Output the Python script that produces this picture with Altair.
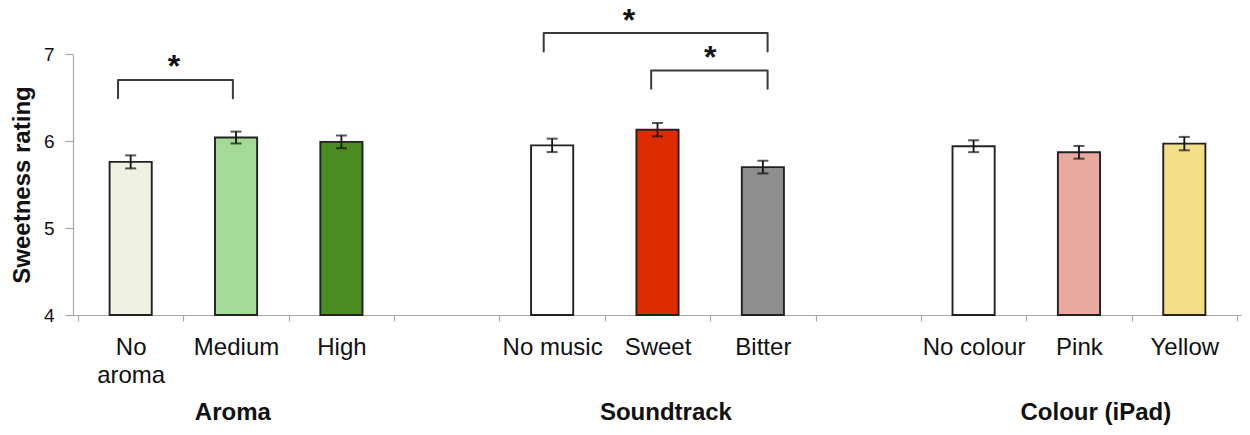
import altair as alt
import pandas as pd
import json

# ---- data ----
categories = ["No aroma", "Medium", "High", "",
              "No music", "Sweet", "Bitter", "",
              "No colour", "Pink", "Yellow"]
bar_categories = ["No aroma", "Medium", "High",
                  "No music", "Sweet", "Bitter",
                  "No colour", "Pink", "Yellow"]
means = [5.76, 6.04, 5.99, 5.95, 6.13, 5.70, 5.94, 5.87, 5.97]
sems = [0.075, 0.068, 0.073, 0.077, 0.077, 0.073, 0.068, 0.073, 0.077]
bar_colors = ["#EFF1E2", "#A3DA95", "#4A8C22",
              "#FFFFFF", "#DD2C00", "#8E8E8E",
              "#FFFFFF", "#EAA99E", "#F3DF88"]

group_titles = ["Aroma", "Soundtrack", "Colour (iPad)"]
group_centers = [1.47, 5.58, 9.66]          # in slot units (0..11)

# significance brackets (slot units on x, rating units on y)
br_left = [0.38, 4.42, 5.44]
br_right = [1.47, 6.545, 6.545]
br_top = [6.70, 7.24, 6.81]
br_bottom = [6.49, 7.03, 6.60]
star_x = [0.91, 5.23, 6.0]
star_y = [6.90, 7.43, 7.00]

FONT = "Liberation Sans"
W, H = 1169, 261
N = len(categories)

slots = [i for i, c in enumerate(categories) if c]
bars = pd.DataFrame({
    "cat": bar_categories, "slot": slots, "mean": means, "sem": sems,
})

rows = []
for i, (l, r, t, b) in enumerate(zip(br_left, br_right, br_top, br_bottom)):
    for k, (xx, yy) in enumerate([(l, b), (l, t), (r, t), (r, b)]):
        rows.append({"id": i, "k": k, "x": xx, "y": yy})
brackets = pd.DataFrame(rows)
stars = pd.DataFrame({"x": star_x, "y": star_y, "t": ["*"] * len(star_x)})
groups = pd.DataFrame({"x": group_centers, "t": group_titles})

names_js = json.dumps(categories)
label_expr = ("datum.value % 1 == 0 ? '' : "
              "(floor(datum.value) == 0 ? ['No', 'aroma'] : "
              f"{names_js}[floor(datum.value)])")

xscale = alt.Scale(domain=[0, N], nice=False, zero=False)
yscale = alt.Scale(domain=[4, 7], nice=False, zero=False)

xaxis = alt.Axis(title=None, values=[i * 0.5 for i in range(2 * N + 1)],
                 labelExpr=label_expr, labelAngle=0, grid=False,
                 labelOverlap=False, labelFlush=False, labelBound=False,
                 tickOpacity=alt.condition("datum.value % 1 == 0", alt.value(1), alt.value(0)),
                 tickSize=6, tickColor="#aaaaaa", tickWidth=1.2,
                 domainColor="#aaaaaa", domainWidth=1.2,
                 labelFont=FONT, labelFontSize=24, labelColor="#111111",
                 labelPadding=14, labelLineHeight=28, labelBaseline="top")
yaxis = alt.Axis(title="Sweetness rating", values=[4, 5, 6, 7], format="d", grid=False,
                 tickSize=8, tickColor="#aaaaaa", domainColor="#aaaaaa",
                 domainWidth=1.2, tickWidth=1.2,
                 labelFont=FONT, labelFontSize=19, labelColor="#111111", labelPadding=11,
                 titleFont=FONT, titleFontSize=24, titleFontWeight="bold",
                 titleColor="#111111", titleBaseline="alphabetic",
                 titleX=-44, titleY=H / 2, titleAngle=-90)

base = alt.Chart(bars).transform_calculate(
    x0="datum.slot + 0.3", x1="datum.slot + 0.7", xc="datum.slot + 0.5",
    lo="datum.mean - datum.sem", hi="datum.mean + datum.sem")

bar_layer = base.mark_bar(stroke="#222222", strokeWidth=1.9, orient="vertical").encode(
    x=alt.X("x0:Q", scale=xscale, axis=xaxis),
    x2="x1:Q",
    y=alt.Y("mean:Q", scale=yscale, axis=yaxis),
    y2=alt.datum(4),
    color=alt.Color("cat:N", scale=alt.Scale(domain=bar_categories, range=bar_colors),
                    legend=None),
)
err_rule = base.mark_rule(color="#111111", strokeWidth=1.8).encode(
    x=alt.X("xc:Q", scale=xscale), y=alt.Y("lo:Q", scale=yscale), y2="hi:Q")
cap_lo = base.mark_tick(color="#111111", size=11, thickness=2,
                        orient="horizontal").encode(
    x=alt.X("xc:Q", scale=xscale), y=alt.Y("lo:Q", scale=yscale))
cap_hi = base.mark_tick(color="#111111", size=11, thickness=2,
                        orient="horizontal").encode(
    x=alt.X("xc:Q", scale=xscale), y=alt.Y("hi:Q", scale=yscale))

bracket_layer = alt.Chart(brackets).mark_line(
    color="#3a3a3a", strokeWidth=2, strokeJoin="round", strokeCap="round",
    clip=False).encode(
    x=alt.X("x:Q", scale=xscale),
    y=alt.Y("y:Q", scale=yscale),
    detail="id:N", order="k:Q")
star_layer = alt.Chart(stars).mark_text(
    font=FONT, fontSize=32, fontWeight="bold", color="#111111",
    baseline="middle", dy=4, clip=False).encode(
    x=alt.X("x:Q", scale=xscale),
    y=alt.Y("y:Q", scale=yscale),
    text="t:N")
group_layer = alt.Chart(groups).mark_text(
    font=FONT, fontSize=24, fontWeight="bold", color="#111111",
    baseline="alphabetic", clip=False).encode(
    x=alt.X("x:Q", scale=xscale),
    y=alt.value(H + 105),
    text="t:N")

chart = alt.layer(bar_layer, err_rule, cap_lo, cap_hi,
                  bracket_layer, star_layer, group_layer).properties(
    width=W, height=H,
    autosize=alt.AutoSizeParams(type="none"),
    padding={"left": 65, "top": 46, "right": 0, "bottom": 111},
).configure_view(stroke="transparent", strokeWidth=0)

chart.save("out.html", embed_options={"renderer": "svg", "actions": False})
